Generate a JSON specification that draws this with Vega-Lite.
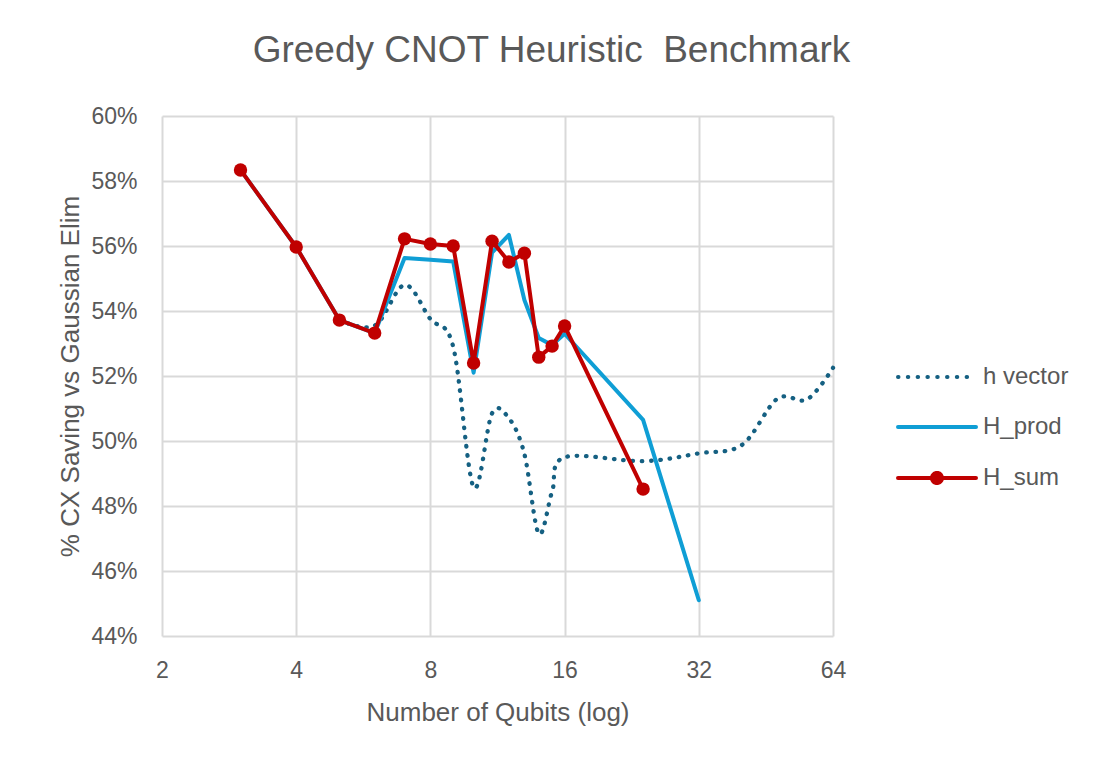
{
  "$schema": "https://vega.github.io/schema/vega-lite/v6.json",
  "width": 671,
  "height": 520,
  "autosize": {"type": "none"},
  "padding": {"left": 162, "top": 116, "right": 271, "bottom": 139},
  "background": "white",
  "title": {
    "text": "Greedy CNOT Heuristic\u00a0 Benchmark",
    "font": "Liberation Sans, Arial, sans-serif",
    "fontSize": 37,
    "fontWeight": "normal",
    "color": "#595959",
    "anchor": "middle",
    "dx": 54,
    "offset": 35
  },
  "datasets": {
    "pts": [
      {"n": 5, "series": "h vector", "v": 53.72},
      {"n": 6, "series": "h vector", "v": 53.55},
      {"n": 7, "series": "h vector", "v": 54.8},
      {"n": 8, "series": "h vector", "v": 53.75},
      {"n": 9, "series": "h vector", "v": 52.9},
      {"n": 10, "series": "h vector", "v": 48.58},
      {"n": 11, "series": "h vector", "v": 50.85},
      {"n": 12, "series": "h vector", "v": 50.7},
      {"n": 13, "series": "h vector", "v": 49.6},
      {"n": 14, "series": "h vector", "v": 47.15},
      {"n": 15, "series": "h vector", "v": 48.45},
      {"n": 16, "series": "h vector", "v": 49.5},
      {"n": 24, "series": "h vector", "v": 49.38},
      {"n": 32, "series": "h vector", "v": 49.62},
      {"n": 40, "series": "h vector", "v": 49.88},
      {"n": 48, "series": "h vector", "v": 51.3},
      {"n": 56, "series": "h vector", "v": 51.28},
      {"n": 64, "series": "h vector", "v": 52.25},
      {"n": 3, "series": "H_prod", "v": 58.34},
      {"n": 4, "series": "H_prod", "v": 55.97},
      {"n": 5, "series": "H_prod", "v": 53.72},
      {"n": 6, "series": "H_prod", "v": 53.32},
      {"n": 7, "series": "H_prod", "v": 55.63},
      {"n": 8, "series": "H_prod", "v": 55.58},
      {"n": 9, "series": "H_prod", "v": 55.52},
      {"n": 10, "series": "H_prod", "v": 52.1},
      {"n": 11, "series": "H_prod", "v": 55.8},
      {"n": 12, "series": "H_prod", "v": 56.34},
      {"n": 13, "series": "H_prod", "v": 54.34},
      {"n": 14, "series": "H_prod", "v": 53.17},
      {"n": 15, "series": "H_prod", "v": 52.95},
      {"n": 16, "series": "H_prod", "v": 53.3},
      {"n": 24, "series": "H_prod", "v": 50.65},
      {"n": 32, "series": "H_prod", "v": 45.1},
      {"n": 3, "series": "H_sum", "v": 58.34},
      {"n": 4, "series": "H_sum", "v": 55.97},
      {"n": 5, "series": "H_sum", "v": 53.72},
      {"n": 6, "series": "H_sum", "v": 53.32},
      {"n": 7, "series": "H_sum", "v": 56.22},
      {"n": 8, "series": "H_sum", "v": 56.06},
      {"n": 9, "series": "H_sum", "v": 56.0},
      {"n": 10, "series": "H_sum", "v": 52.4},
      {"n": 11, "series": "H_sum", "v": 56.15},
      {"n": 12, "series": "H_sum", "v": 55.51},
      {"n": 13, "series": "H_sum", "v": 55.78},
      {"n": 14, "series": "H_sum", "v": 52.58},
      {"n": 15, "series": "H_sum", "v": 52.92},
      {"n": 16, "series": "H_sum", "v": 53.54},
      {"n": 24, "series": "H_sum", "v": 48.52}
    ]
  },
  "data": {"name": "pts"},
  "encoding": {
    "x": {
      "field": "n",
      "type": "quantitative",
      "scale": {"type": "log", "base": 2, "domain": [2, 64], "nice": false},
      "axis": {
        "title": "Number of Qubits (log)",
        "values": [2, 4, 8, 16, 32, 64],
        "format": "d",
        "labelFlush": false,
        "labelPadding": 23,
        "titlePadding": 17
      }
    },
    "y": {
      "field": "v",
      "type": "quantitative",
      "scale": {"domain": [44, 60], "nice": false, "zero": false},
      "axis": {
        "title": "% CX Saving vs Gaussian Elim",
        "values": [44, 46, 48, 50, 52, 54, 56, 58, 60],
        "labelExpr": "datum.value + '%'",
        "labelFlush": false,
        "labelPadding": 25,
        "titlePadding": 7
      }
    },
    "color": {
      "field": "series",
      "type": "nominal",
      "scale": {"domain": ["h vector", "H_prod", "H_sum"], "range": ["#156082", "#0F9ED5", "#C00000"]},
      "legend": {
        "title": null,
        "orient": "none",
        "legendX": 763,
        "legendY": 249,
        "symbolType": "stroke",
        "symbolSize": 400,
        "symbolStrokeWidth": 4,
        "labelFontSize": 24,
        "labelColor": "#595959",
        "labelFont": "Liberation Sans, Arial, sans-serif",
        "labelOffset": 34,
        "rowPadding": 26,
        "encode": {
          "symbols": {
            "update": {
              "shape": {"signal": "datum.value === 'H_sum' ? 'M-3.9,0H3.9M0.5,0A0.5,0.5,0,1,1,-0.5,0A0.5,0.5,0,1,1,0.5,0Z' : 'M-3.9,0H3.9'"},
              "fill": {"signal": "datum.value === 'H_sum' ? '#C00000' : 'transparent'"},
              "fillOpacity": {"value": 1},
              "strokeCap": {"value": "round"},
              "strokeDash": {"signal": "datum.value === 'h vector' ? [0.5, 9.3] : [1, 0]"}
            }
          }
        }
      }
    }
  },
  "layer": [
    {
      "transform": [{"filter": "datum.series === 'h vector'"}],
      "mark": {"type": "line", "interpolate": "cardinal", "strokeWidth": 4.3, "strokeDash": [0.5, 8.8], "strokeCap": "round"}
    },
    {
      "transform": [{"filter": "datum.series === 'H_prod'"}],
      "mark": {"type": "line", "strokeWidth": 4, "strokeCap": "round", "strokeJoin": "round"}
    },
    {
      "transform": [{"filter": "datum.series === 'H_sum'"}],
      "mark": {"type": "line", "strokeWidth": 4, "strokeCap": "round", "strokeJoin": "round"}
    },
    {
      "transform": [{"filter": "datum.series === 'H_sum'"}],
      "mark": {"type": "point", "filled": true, "size": 180, "opacity": 1}
    }
  ],
  "config": {
    "font": "Liberation Sans, Arial, sans-serif",
    "view": {"stroke": null},
    "axis": {
      "domain": false,
      "ticks": false,
      "tickSize": 0,
      "grid": true,
      "gridColor": "#D9D9D9",
      "gridWidth": 2,
      "labelFontSize": 23,
      "labelColor": "#595959",
      "labelFont": "Liberation Sans, Arial, sans-serif",
      "titleFontSize": 26,
      "titleFontWeight": "normal",
      "titleColor": "#595959",
      "titleFont": "Liberation Sans, Arial, sans-serif"
    }
  }
}
